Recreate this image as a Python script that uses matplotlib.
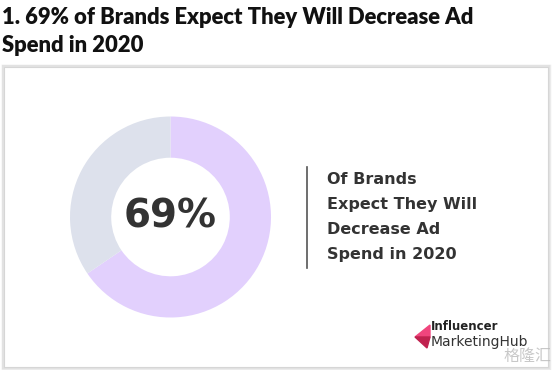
import matplotlib
matplotlib.use("Agg")
import matplotlib.pyplot as plt
from matplotlib.patches import Rectangle, Polygon

# data
title_lines = ["1. 69% of Brands Expect They Will Decrease Ad", "Spend in 2020"]
labels = ["Decrease", "Other"]
shares = [65.5, 34.5]          # drawn wedge sizes
big_label = "69%"
caption = ["Of Brands", "Expect They Will", "Decrease Ad", "Spend in 2020"]
colors = ["#e2d0fd", "#dde1ec"]

W, H = 554, 370
fig = plt.figure(figsize=(W / 100, H / 100), dpi=100)

# full-figure axes in pixel coordinates
bg = fig.add_axes([0, 0, 1, 1])
bg.set_xlim(0, W)
bg.set_ylim(H, 0)
bg.axis("off")

# card with soft shadow
for off, c in [(2.5, "#ececec"), (1.5, "#e2e2e2")]:
    bg.add_patch(Rectangle((4 - off / 2, 67 - off / 2), 544 + off, 300 + off,
                           facecolor="none", edgecolor=c, lw=off))
bg.add_patch(Rectangle((4, 67), 544, 300, facecolor="white", edgecolor="#d6d6d6", lw=0.8))

for i, line in enumerate(title_lines):
    bg.text(2, 18 + i * 27, line, fontsize=15.8, fontweight="heavy", family="Lato",
            color="#111111", va="center", ha="left")

# divider + caption
bg.plot([307, 307], [167, 268], color="#555555", lw=1.2)
for i, line in enumerate(caption):
    bg.text(327, 179 + i * 25.3, line, fontsize=11.5, fontweight="bold", family="DejaVu Sans",
            color="#333333", va="center", ha="left")

# logo
bg.add_patch(Polygon([[415, 337], [430, 325], [430, 337]], closed=True, color="#f0457d"))
bg.add_patch(Polygon([[415, 337], [430, 337], [427, 348]], closed=True, color="#c0224f"))
bg.text(431, 327, "Influencer", fontsize=8.5, fontweight="bold", color="#222222", va="center")
bg.text(431, 342, "MarketingHub", fontsize=10, color="#333333", va="center")
bg.text(503, 356, "格隆汇", fontsize=11.5, family=["Noto Sans CJK SC", "DejaVu Sans"],
        color="#bbbbbb", alpha=0.8, va="center")

# donut
cx, cy, r = 170.5, 217, 100.5
ax = fig.add_axes([(cx - r) / W, (H - cy - r) / H, 2 * r / W, 2 * r / H])
ax.pie(shares, colors=colors, startangle=90, counterclock=False,
       wedgeprops=dict(width=0.41, edgecolor="none"))
ax.set_xlim(-1, 1)
ax.set_ylim(-1, 1)
ax.set_aspect("equal")
ax.axis("off")
ax.text(0, 0, big_label, fontsize=28, fontweight="bold", color="#333333",
        ha="center", va="center")

fig.savefig("out.png", dpi=100)
